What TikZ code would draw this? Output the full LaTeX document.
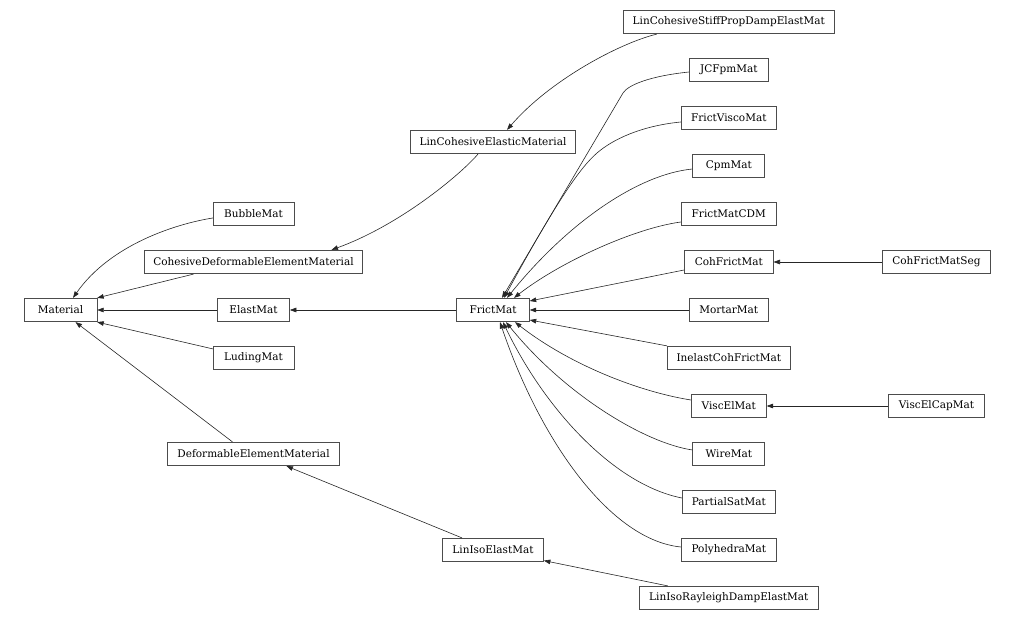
\documentclass[tikz,border=0pt]{standalone}
\usepackage{fontspec}
\setmainfont{DejaVu Serif}
\usetikzlibrary{arrows.meta,calc}
\begin{document}
\begin{tikzpicture}[x=1pt,y=-1pt,
  box/.style={draw=black!70, line width=0.7pt, minimum height=23.5pt, inner sep=0pt, font=\fontsize{10.5}{12}\selectfont},
  conn/.style={draw=black!85, line width=0.6pt, -{Triangle[length=6.5pt,width=4.6pt]}}]
\useasboundingbox (0,0) rectangle (1015,620);
% column 1
\node[box, minimum width=72.7pt] (Mat) at (60.5,310) {Material};
% column 2
\node[box, minimum width=80.7pt] (Bubble) at (253.5,214) {BubbleMat};
\node[box, minimum width=218.4pt] (CDEM) at (253.5,262) {CohesiveDeformableElementMaterial};
\node[box, minimum width=72pt] (Elast) at (253.5,310) {ElastMat};
\node[box, minimum width=80.7pt] (Luding) at (253.5,358) {LudingMat};
\node[box, minimum width=171.6pt] (DEM) at (253.5,454) {DeformableElementMaterial};
% column 3
\node[box, minimum width=164.7pt] (LCE) at (493,142) {LinCohesiveElasticMaterial};
\node[box, minimum width=72.7pt] (F) at (493,310) {FrictMat};
\node[box, minimum width=101pt] (LIE) at (493,550) {LinIsoElastMat};
% column 4
\node[box, minimum width=211.7pt] (LCSP) at (728.8,22) {LinCohesiveStiffPropDampElastMat};
\node[box, minimum width=78.7pt] (JCF) at (728.8,70) {JCFpmMat};
\node[box, minimum width=95.3pt] (FV) at (728.8,118) {FrictViscoMat};
\node[box, minimum width=72pt] (Cpm) at (728.8,166) {CpmMat};
\node[box, minimum width=95pt] (CDM) at (728.8,214) {FrictMatCDM};
\node[box, minimum width=88.7pt] (CFM) at (728.8,262) {CohFrictMat};
\node[box, minimum width=79pt] (Mortar) at (728.8,310) {MortarMat};
\node[box, minimum width=122.7pt] (ICF) at (728.8,358) {InelastCohFrictMat};
\node[box, minimum width=75pt] (VEM) at (728.8,406) {ViscElMat};
\node[box, minimum width=72pt] (Wire) at (728.8,454) {WireMat};
\node[box, minimum width=93pt] (PSat) at (728.8,502) {PartialSatMat};
\node[box, minimum width=95pt] (Poly) at (728.8,550) {PolyhedraMat};
\node[box, minimum width=178.3pt] (LIR) at (728.8,598) {LinIsoRayleighDampElastMat};
% column 5
\node[box, minimum width=108.3pt] (CFMS) at (936.4,262) {CohFrictMatSeg};
\node[box, minimum width=96pt] (VECap) at (936.4,406) {ViscElCapMat};
% edges to Material
\draw[conn] ($(Bubble.west)+(0,4)$) .. controls (175,224) and (110,245) .. ($(Mat.north)+(12.5,0)$);
\draw[conn] ($(CDEM.south)+(-60,0)$) -- (Mat.north east);
\draw[conn] (Elast) -- (Mat);
\draw[conn] ($(Luding.north west)+(0,3)$) -- (Mat.south east);
\draw[conn] ($(DEM.north)+(-21,0)$) -- ($(Mat.south)+(15,0)$);
% other left edges
\draw[conn] ($(LIE.north)+(-31,0)$) -- ($(DEM.south)+(33,0)$);
\draw[conn] ($(LIR.north)+(-61,0)$) -- ($(LIE.south east)+(0,-1.5)$);
\draw[conn] ($(LCSP.south)+(-72,0)$) .. controls (620,43) and (550,80) .. ($(LCE.north)+(14,0)$);
\draw[conn] ($(LCE.south)+(-15,0)$) .. controls (460,175) and (400,225) .. ($(CDEM.north)+(78,0)$);
\draw[conn] (F) -- (Elast);
\draw[conn] (CFMS) -- (CFM);
\draw[conn] (VECap) -- (VEM);
% edges to FrictMat
\draw[conn] ($(JCF.west)+(0,2)$) .. controls (650,76) and (628,85) .. (623,93) -- ($(F.north)+(9,0)$);
\draw[conn] ($(FV.west)+(0,4)$) .. controls (640,126) and (612,140) .. (597,153) .. controls (582,166) and (560,195) .. ($(F.north)+(11,0)$);
\draw[conn] ($(Cpm.west)+(0,3)$) .. controls (640,174) and (570,220) .. ($(F.north)+(14,0)$);
\draw[conn] ($(CDM.west)+(0,8)$) .. controls (635,228) and (560,262) .. ($(F.north)+(21,0)$);
\draw[conn] ($(CFM.west)+(0,8)$) -- ($(F.east)+(0,-9)$);
\draw[conn] (Mortar) -- (F);
\draw[conn] (ICF.north west) -- ($(F.east)+(0,10)$);
\draw[conn] ($(VEM.west)+(0,-6)$) .. controls (640,392) and (570,365) .. ($(F.south)+(22,0)$);
\draw[conn] ($(Wire.west)+(0,-4)$) .. controls (645,443) and (565,395) .. ($(F.south)+(13,0)$);
\draw[conn] ($(PSat.west)+(0,-4)$) .. controls (615,485) and (545,410) .. ($(F.south)+(10,0)$);
\draw[conn] ($(Poly.west)+(0,-3)$) .. controls (610,540) and (540,440) .. ($(F.south)+(7,0)$);
\end{tikzpicture}
\end{document}
